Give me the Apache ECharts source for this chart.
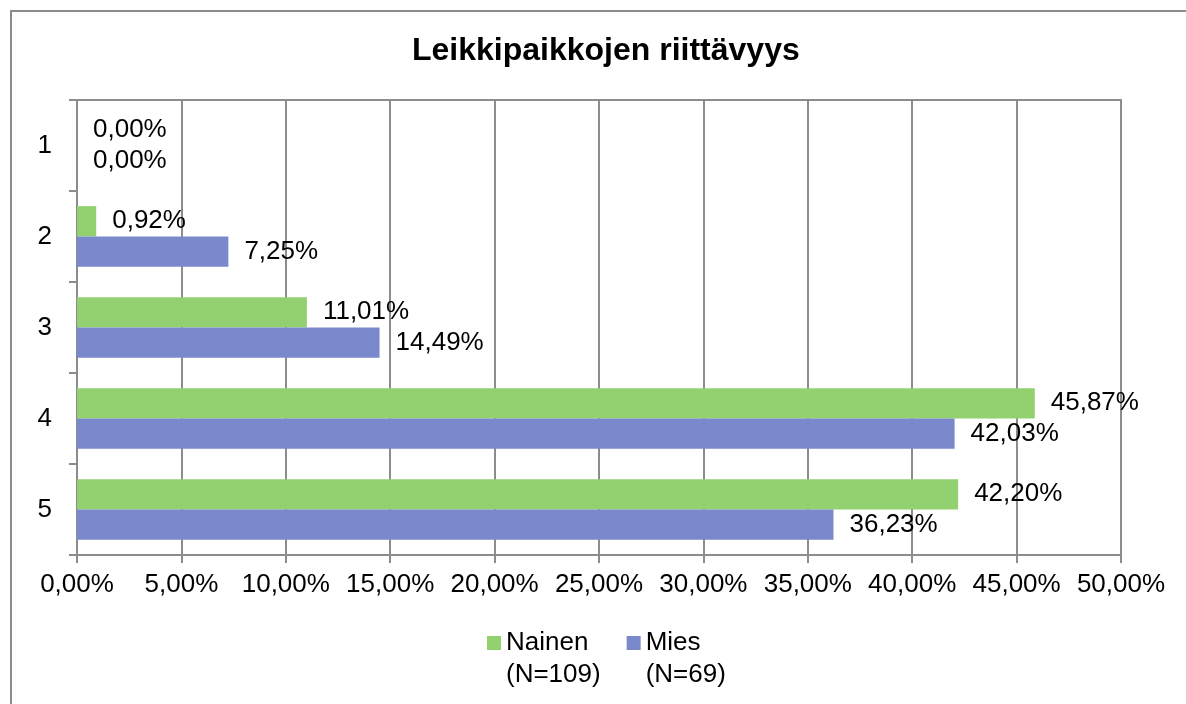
<!DOCTYPE html>
<html lang="fi">
<head>
<meta charset="UTF-8">
<title>Leikkipaikkojen riittävyys</title>
<script src="https://cdn.jsdelivr.net/npm/echarts@6/dist/echarts.min.js"></script>
<style>
  body { margin: 0; background: #fff; }
  #frame { position: absolute; left: 10px; top: 10px; width: 1200px; height: 720px; border: 2px solid #8c8c8c; }
  #main { position: absolute; left: 0; top: 0; width: 1186px; height: 704px; }
</style>
</head>
<body>
<div id="frame"></div>
<div id="main"></div>
<script>
  // arvot kuvasta (%)
  var categories = ['1', '2', '3', '4', '5'];
  var nainen = [0.00, 0.92, 11.01, 45.87, 42.20];
  var mies = [0.00, 7.25, 14.49, 42.03, 36.23];
  var seriesNames = ['Nainen\n(N=109)', 'Mies\n(N=69)'];
  var xMax = 50, xStep = 5;

  function pct(v) {
    return v.toFixed(2).replace('.', ',') + '%';
  }

  var gray = '#8c8c8c';
  var font = 'Liberation Sans, Arial, sans-serif';

  var myChart = echarts.init(document.getElementById('main'));
  myChart.setOption({
    textStyle: { fontFamily: font },
    title: {
      text: 'Leikkipaikkojen riittävyys',
      left: 412,
      top: 35,
      padding: 0,
      textStyle: { fontSize: 32, fontWeight: 'bold', color: '#000', fontFamily: font }
    },
    legend: {
      left: 487,
      top: 595,
      padding: 0,
      itemWidth: 14,
      itemHeight: 14,
      itemGap: 26,
      icon: 'rect',
      data: seriesNames,
      // tyhjä rivi ylös, jotta ikoni osuu ensimmäisen tekstirivin kohdalle
      formatter: function (name) { return ' \n' + name; },
      textStyle: { fontSize: 26, lineHeight: 32, color: '#000' }
    },
    grid: {
      left: 77, right: 65, top: 100, bottom: 149,
      show: true, borderColor: gray, borderWidth: 2
    },
    xAxis: {
      type: 'value',
      min: 0, max: xMax, interval: xStep,
      axisLine: { show: true, lineStyle: { color: gray, width: 2 } },
      axisTick: { show: true, length: 8, lineStyle: { color: gray, width: 2 } },
      splitLine: { show: true, lineStyle: { color: gray, width: 2 } },
      axisLabel: { fontSize: 26, color: '#000', margin: 17, formatter: pct }
    },
    yAxis: {
      type: 'category',
      inverse: true,
      data: categories,
      axisLine: { show: true, lineStyle: { color: gray, width: 2 } },
      axisTick: { show: true, length: 8, alignWithLabel: false, lineStyle: { color: gray, width: 2 } },
      axisLabel: { fontSize: 26, color: '#000', margin: 25 }
    },
    series: [{
      name: seriesNames[0],
      type: 'bar',
      data: nainen,
      barGap: '0%',
      barCategoryGap: '33.3%',
      itemStyle: { color: '#92d070' },
      label: { show: true, position: 'right', distance: 16, fontSize: 26, color: '#000',
               formatter: function (p) { return pct(p.value); } }
    }, {
      name: seriesNames[1],
      type: 'bar',
      data: mies,
      barGap: '0%',
      barCategoryGap: '33.3%',
      itemStyle: { color: '#7989cc' },
      label: { show: true, position: 'right', distance: 16, fontSize: 26, color: '#000',
               formatter: function (p) { return pct(p.value); } }
    }]
  });
</script>
</body>
</html>
